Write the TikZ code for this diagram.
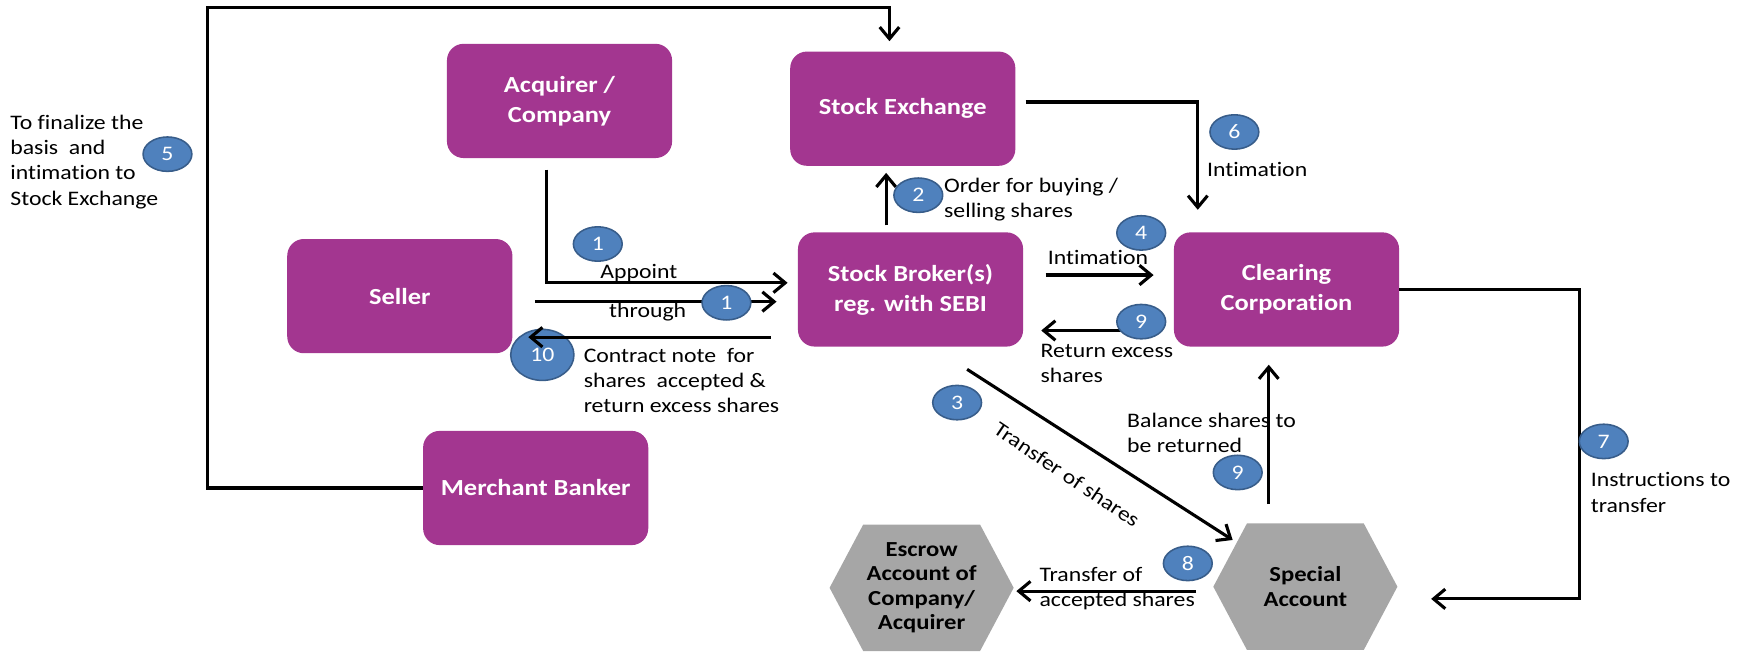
\documentclass[tikz,border=0pt]{standalone}
\usepackage{fontspec}
\setmainfont{Carlito}[FakeStretch=1.15, Ligatures=NoCommon]
\usetikzlibrary{arrows.meta,shapes.geometric,shapes.symbols}
\newlength{\du}
\setlength{\du}{0.02cm}

\begin{document}
\begin{tikzpicture}[
  entity/.style={rectangle, rounded corners=15\du, fill=boxcolor, text=white,
    minimum width=203\du, minimum height=103\du, inner sep=0pt, align=center,
    font=\fontsize{11.8}{15.4}\selectfont\bfseries},
  account/.style={signal, signal to=west and east, signal pointer angle=124,
    fill=hexcolor, text=black, minimum width=166\du, minimum height=114\du,
    inner sep=0pt, align=center, font=\fontsize{11}{12.6}\selectfont\bfseries},
  stepmark/.style={ellipse, fill=stepfill, draw=stepline, line width=0.8pt,
    minimum width=44\du, minimum height=31\du, inner sep=0pt, text=white,
    font=\fontsize{10.6}{12}\selectfont},
  note/.style={anchor=west, align=left, inner sep=0pt, text=black,
    font=\fontsize{10.6}{12.9}\selectfont},
  flow/.style={draw=black, line width=1.6pt,
    -{Straight Barb[length=6pt,width=10pt]}}
]
\pgftransformxscale{1.000000}
\pgftransformyscale{-1.000000}
\definecolor{boxcolor}{rgb}{0.640000, 0.210000, 0.565000}
\definecolor{hexcolor}{rgb}{0.650000, 0.650000, 0.650000}
\definecolor{stepfill}{rgb}{0.310000, 0.506000, 0.741000}
\definecolor{stepline}{rgb}{0.220000, 0.365000, 0.541000}
\useasboundingbox (0\du,0\du) rectangle (1568\du,592\du);
% boxes
\node[entity] (acquirer) at (504.5\du,91\du){Acquirer /\\Company};
\node[entity] (exchange) at (814\du,98\du){Stock Exchange};
\node[entity] (seller) at (360.5\du,267\du){Seller};
\node[entity] (broker) at (821\du,261\du){Stock Broker(s)\\reg. with SEBI};
\node[entity] (clearing) at (1160\du,261\du){Clearing\\Corporation};
\node[entity] (merchant) at (483\du,440\du){Merchant Banker};
\node[account] (escrow) at (831\du,530\du){Escrow\\Account of\\Company/\\Acquirer};
\node[account] (special) at (1177\du,529\du){Special\\Account};
% corners and free ends
\coordinate (topleft) at (187\du,7\du);
\coordinate (topright) at (802\du,7\du);
\coordinate (appoint) at (493\du,255\du);
\coordinate (through) at (590\du,272\du);
\coordinate (contract) at (590\du,304\du);
\coordinate (order) at (799\du,180\du);
\coordinate (intimcorner) at (1080\du,92\du);
\coordinate (intim) at (990\du,248\du);
\coordinate (excess) at (990\du,298\du);
\coordinate (instrcorner) at (1424\du,540\du);
\coordinate (diagstart) at (872\du,333\du);
\coordinate (balance) at (1144\du,400\du);
\coordinate (accepted) at (1000\du,533\du);
% step 10 lies under its arrow
\node[stepmark, minimum width=57\du, minimum height=46\du] (n10) at (489\du,320\du){10};
% connectors
\draw[flow, shorten >=9\du] (merchant.west) -| (topleft) -- (topright) -- (topright |- exchange.north);
\draw[flow, shorten <=10\du, shorten >=9\du] (acquirer.south -| appoint) |- (broker.west |- appoint);
\draw[flow, shorten <=20\du, shorten >=19\du] (seller.east |- through) -- (broker.west |- through);
\draw[flow, shorten <=24\du, shorten >=14\du] (broker.west |- contract) -- (seller.east |- contract);
\draw[flow, shorten <=6\du, shorten >=6\du] (broker.north -| order) -- (exchange.south -| order);
\draw[flow, shorten <=9\du, shorten >=20\du] (exchange.east |- intimcorner) -- (intimcorner) -- (clearing.north -| intimcorner);
\draw[flow, shorten <=20\du, shorten >=18\du] (broker.east |- intim) -- (clearing.west |- intim);
\draw[flow, shorten <=34\du, shorten >=16\du] (clearing.west |- excess) -- (broker.east |- excess);
\draw[flow, shorten >=30\du] (clearing.east) -| (instrcorner) -- (special.east |- instrcorner);
\draw[flow, shorten >=4\du] (diagstart) -- (special);
\draw[flow, shorten <=17\du, shorten >=16\du] (special.north -| balance) -- (clearing.south -| balance);
\draw[flow, shorten <=15\du, shorten >=2\du] (special.west |- accepted) -- (escrow.east |- accepted);
% step numbers
\node[stepmark] (n5) at (151\du,139\du){5};
\node[stepmark] (n1a) at (539\du,220\du){1};
\node[stepmark] (n1b) at (655\du,273\du){1};
\node[stepmark] (n2) at (828\du,176\du){2};
\node[stepmark] (n6) at (1113\du,119\du){6};
\node[stepmark] (n4) at (1029\du,210\du){4};
\node[stepmark] (n9a) at (1029\du,290\du){9};
\node[stepmark] (n3) at (863\du,363\du){3};
\node[stepmark] (n9b) at (1116\du,426\du){9};
\node[stepmark] (n7) at (1446\du,398\du){7};
\node[stepmark] (n8) at (1071\du,508\du){8};
% labels
\node[note] (finalize) at (9\du,146\du){To finalize the\\basis\ \ and\\intimation to\\Stock Exchange};
\node[note, anchor=center] (appointlbl) at (576\du,246\du){Appoint};
\node[note, anchor=center] (throughlbl) at (584\du,281\du){through};
\node[note] (contractlbl) at (526\du,343\du){Contract note\ \ for\\shares\ \ accepted \&\\return excess shares};
\node[note] (orderlbl) at (851\du,180\du){Order for buying /\\selling shares};
\node[note] (intimlbl) at (1088\du,153\du){Intimation};
\node[note, anchor=center] (intim4lbl) at (990\du,232\du){Intimation};
\node[note] (excesslbl) at (938\du,328\du){Return excess\\shares};
\node[note, rotate=-34, anchor=center] (transferlbl) at (962\du,428\du){Transfer of shares};
\node[note] (balancelbl) at (1016\du,390\du){Balance shares to\\be returned};
\node[note] (instrlbl) at (1434\du,444\du){Instructions to\\transfer};
\node[note] (acceptedlbl) at (937\du,531\du){Transfer of\\accepted shares};
\end{tikzpicture}
\end{document}
